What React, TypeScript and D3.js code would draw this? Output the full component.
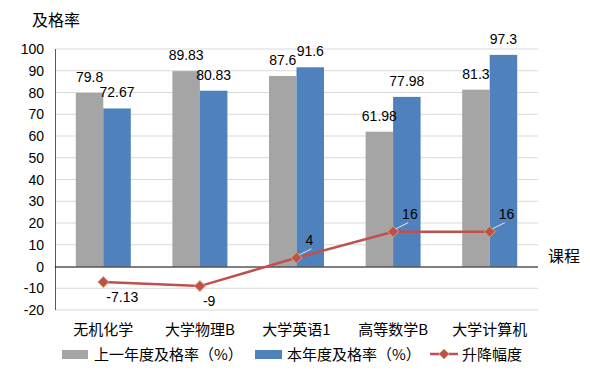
import React from "react";
import * as d3 from "d3";

const categories = ["无机化学", "大学物理B", "大学英语1", "高等数学B", "大学计算机"];
const lastYear = [79.8, 89.83, 87.6, 61.98, 81.3];
const thisYear = [72.67, 80.83, 91.6, 77.98, 97.3];
const change = [-7.13, -9, 4, 16, 16];
const yTicks = [-20, -10, 0, 10, 20, 30, 40, 50, 60, 70, 80, 90, 100];
const seriesNames = ["上一年度及格率（%）", "本年度及格率（%）", "升降幅度"];

const W = 590, H = 378;
const left = 55, right = 538, top = 49, bottom = 310;
const GREY = "#A5A5A5", BLUE = "#4F81BD", RED = "#C0504D";
const NUM = "'Liberation Sans', Arial, sans-serif";
const CJK = "'Noto Sans CJK SC', 'Liberation Sans', sans-serif";

export default function App() {
  const x = d3.scaleBand<string>().domain(categories).range([left, right]);
  const y = d3.scaleLinear().domain([-20, 100]).range([bottom, top]);
  const bw = 27.5;
  const cx = (c: string) => (x(c) as number) + x.bandwidth() / 2;
  const line = d3.line<number>().x((_, i) => cx(categories[i])).y((d) => y(d));
  const diamond = (px: number, py: number, r: number) =>
    `M${px},${py - r}L${px + r},${py}L${px},${py + r}L${px - r},${py}Z`;

  return (
    <svg width={W} height={H} style={{ position: "absolute", left: 0, top: 0, background: "#fff" }}>
      <text x={32} y={26} fontFamily={CJK} fontSize={16} fill="#000">及格率</text>
      {yTicks.map((t) => (
        <g key={t}>
          {t !== 0 && t !== 100 && (
            <line x1={left} x2={right} y1={y(t)} y2={y(t)} stroke="#D9D9D9" strokeWidth={1} />
          )}
          {t === 100 && <line x1={left} x2={right} y1={y(t)} y2={y(t)} stroke="#D9D9D9" strokeWidth={1} />}
          <text x={44} y={y(t) + 5} textAnchor="end" fontFamily={NUM} fontSize={14} fill="#000">{t}</text>
        </g>
      ))}
      {categories.map((c, i) => (
        <g key={c}>
          <rect x={cx(c) - bw} y={y(lastYear[i])} width={bw} height={y(0) - y(lastYear[i])} fill={GREY} />
          <rect x={cx(c)} y={y(thisYear[i])} width={bw} height={y(0) - y(thisYear[i])} fill={BLUE} />
          <text x={cx(c) - bw / 2} y={y(lastYear[i]) - 11} textAnchor="middle" fontFamily={NUM} fontSize={14}>{lastYear[i]}</text>
          <text x={cx(c) + bw / 2} y={y(thisYear[i]) - 11} textAnchor="middle" fontFamily={NUM} fontSize={14}>{thisYear[i]}</text>
          <text x={cx(c)} y={335} textAnchor="middle" fontFamily={CJK} fontSize={15}>{c}</text>
        </g>
      ))}
      <line x1={left + 0.5} x2={left + 0.5} y1={top} y2={bottom} stroke="#595959" strokeWidth={1} />
      <line x1={left} x2={right} y1={y(0) + 0.5} y2={y(0) + 0.5} stroke="#000" strokeWidth={1} />
      <text x={548} y={262} fontFamily={CJK} fontSize={16}>课程</text>
      <path d={line(change) || ""} fill="none" stroke={RED} strokeWidth={2.5} />
      {change.map((v, i) => {
        const px = cx(categories[i]), py = y(v);
        return (
          <g key={i}>
            {v > 0 && (
              <line x1={px + 3} y1={py - 3} x2={px + 15} y2={py - 9} stroke="#E8E8E8" strokeWidth={1} />
            )}
            <path d={diamond(px, py, 5.5)} fill={RED} stroke="#D9A46A" strokeWidth={1} />
            <text
              x={v > 0 ? px + 9 : px + 3}
              y={v > 0 ? py - 13 : py + 20}
              fontFamily={NUM}
              fontSize={14}
            >
              {v}
            </text>
          </g>
        );
      })}
      <rect x={62} y={350} width={26} height={9} fill={GREY} />
      <text x={94} y={360} fontFamily={CJK} fontSize={15}>{seriesNames[0]}</text>
      <rect x={255} y={350} width={27} height={9} fill={BLUE} />
      <text x={287} y={360} fontFamily={CJK} fontSize={15}>{seriesNames[1]}</text>
      <line x1={430} x2={458} y1={354} y2={354} stroke={RED} strokeWidth={2.5} />
      <path d={diamond(444, 354, 5)} fill={RED} stroke="#D9A46A" strokeWidth={1} />
      <text x={462} y={360} fontFamily={CJK} fontSize={15}>{seriesNames[2]}</text>
    </svg>
  );
}
